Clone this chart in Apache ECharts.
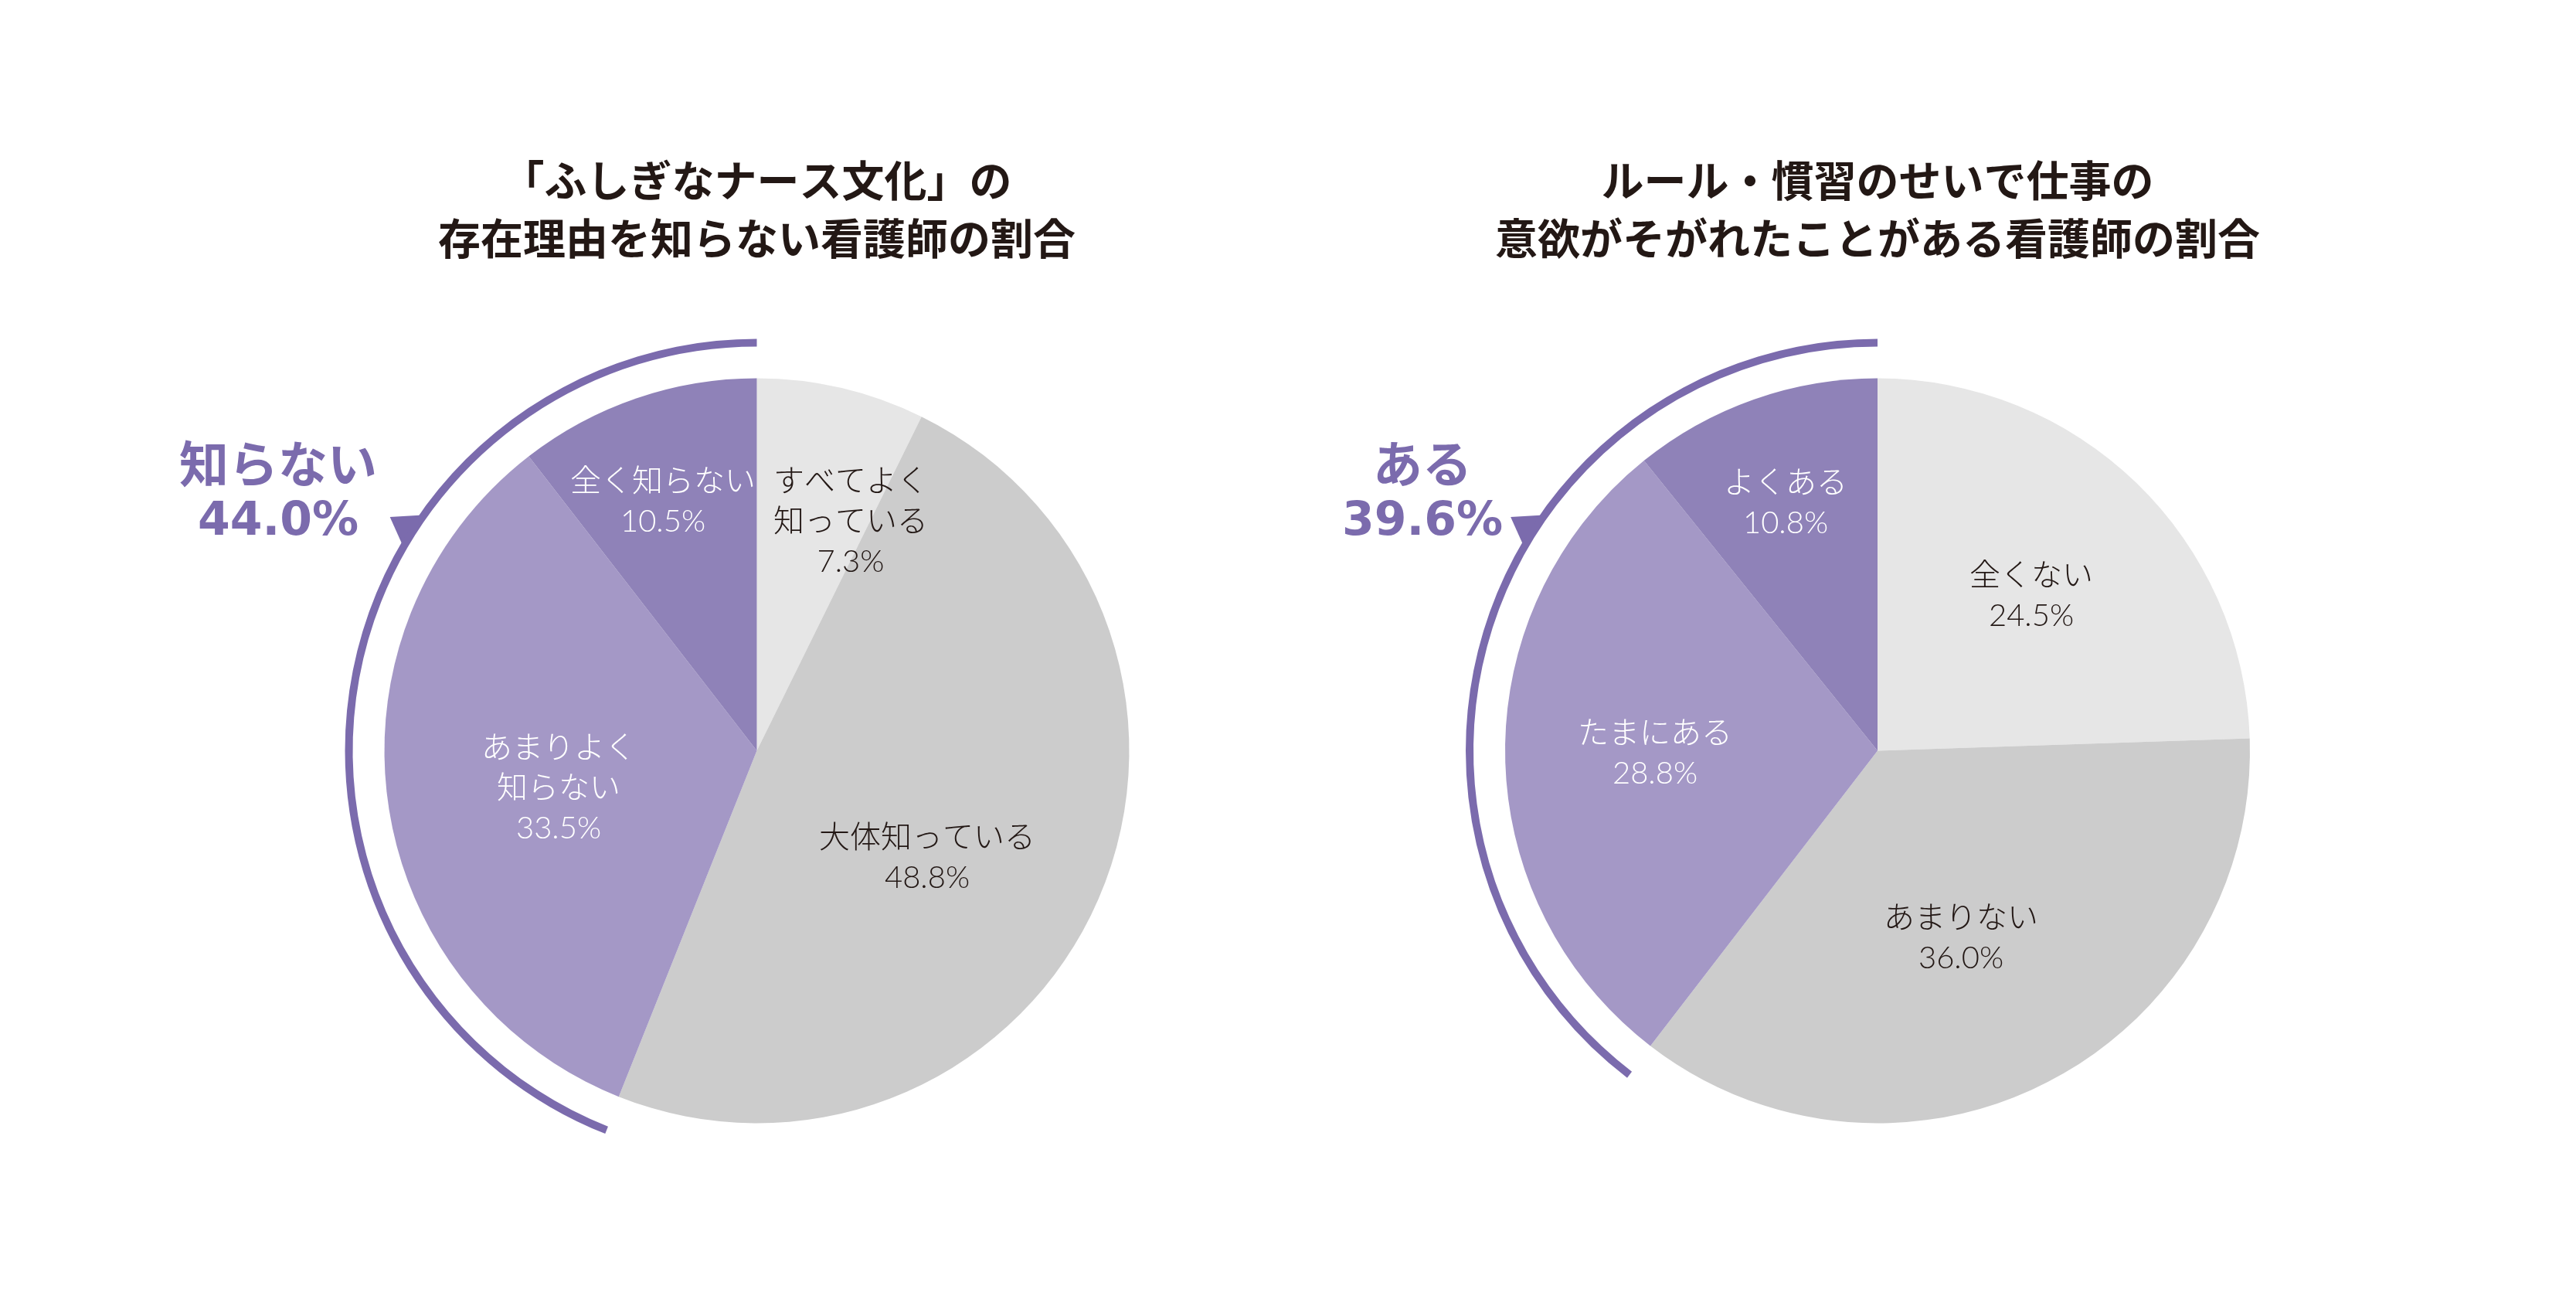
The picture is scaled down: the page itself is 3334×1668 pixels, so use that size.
<!DOCTYPE html>
<html>
<head>
<meta charset="utf-8">
<title>看護師アンケート</title>
<script src="https://cdn.jsdelivr.net/npm/echarts@6/dist/echarts.min.js"></script>
<style>
  html, body { margin: 0; padding: 0; background: #fff; }
  #main { width: 3334px; height: 1668px; }
</style>
</head>
<body>
<div id="main"></div>
<script>
// 左：「ふしぎなナース文化」の存在理由
var leftTitle = '「ふしぎなナース文化」の\n存在理由を知らない看護師の割合';
var leftNames = ['すべてよく\n知っている', '大体知っている', 'あまりよく\n知らない', '全く知らない'];
var leftValues = [7.3, 48.8, 33.5, 10.5];
var leftHighlight = '知らない';   // 紫の2つを合計

// 右：ルール・慣習で意欲がそがれた
var rightTitle = 'ルール・慣習のせいで仕事の\n意欲がそがれたことがある看護師の割合';
var rightNames = ['全くない', 'あまりない', 'たまにある', 'よくある'];
var rightValues = [24.5, 36.0, 28.8, 10.8];
var rightHighlight = 'ある';

var colors = ['#E6E6E6', '#CCCCCC', '#A498C6', '#8F82B8'];
var labelColors = ['#231815', '#231815', '#ffffff', '#ffffff'];
var arcColor = '#7B6BAD';

var R = 482;
var centers = [[979.5, 971.5], [2430, 971.5]];
// ラベル位置（円の中心からのずれ）
var labelPos = [
    [[121.5, -296.5], [220.5, 138.5], [-256.5, 48.5], [-121.5, -322.5]],
    [[199, -200.5], [108, 242.5], [-288, 3.5], [-119, -320.5]]
];

var labelFont = 'Lato, "Noto Sans CJK JP", sans-serif';

function pieData(names, values) {
    var out = [];
    for (var i = 0; i < names.length; i++) {
        out.push({
            name: names[i],
            value: values[i],
            itemStyle: { color: colors[i] },
            label: { color: labelColors[i] }
        });
    }
    return out;
}

function purpleSum(values) {
    return Math.round((values[2] + values[3]) * 10) / 10;
}

function pieSeries(idx, names, values) {
    return {
        type: 'pie',
        center: centers[idx],
        radius: [0, R],
        startAngle: 90,
        clockwise: true,
        avoidLabelOverlap: false,
        silent: true,
        itemStyle: { borderWidth: 0 },
        label: {
            show: true,
            position: 'inside',
            fontFamily: labelFont,
            fontWeight: 300,
            fontSize: 40,
            lineHeight: 52,
            align: 'center',
            formatter: function (p) {
                return p.name + '\n' + p.value.toFixed(1) + '%';
            }
        },
        labelLine: { show: false },
        labelLayout: function (params) {
            var off = labelPos[idx][params.dataIndex];
            return {
                x: centers[idx][0] + off[0],
                y: centers[idx][1] + off[1],
                align: 'center',
                verticalAlign: 'middle'
            };
        },
        data: pieData(names, values)
    };
}

function arcSeries(idx, values) {
    var s = purpleSum(values);
    return {
        type: 'pie',
        center: centers[idx],
        radius: [523, 533],
        startAngle: 90,
        clockwise: false,
        silent: true,
        label: { show: false },
        labelLine: { show: false },
        itemStyle: { borderWidth: 0 },
        data: [
            { value: s, itemStyle: { color: arcColor } },
            { value: 100 - s, itemStyle: { color: 'rgba(0,0,0,0)' } }
        ]
    };
}

// 矢印の三角（角度は上から反時計回り）
function arrowHead(idx) {
    var c = centers[idx];
    var pts = [[54.8, 529], [57.5, 563], [59.8, 531]].map(function (p) {
        var a = p[0] * Math.PI / 180;
        return [c[0] - p[1] * Math.sin(a), c[1] - p[1] * Math.cos(a)];
    });
    return {
        type: 'polygon',
        shape: { points: pts },
        style: { fill: arcColor }
    };
}

function titleText(idx, text) {
    return {
        type: 'text',
        x: centers[idx][0],
        y: 271,
        style: {
            text: text,
            fill: '#231815',
            font: 'bold 55px "Noto Sans CJK JP", sans-serif',
            lineHeight: 75,
            align: 'center',
            verticalAlign: 'middle'
        }
    };
}

function bigText(x, word, values) {
    return {
        type: 'text',
        x: x,
        y: 638,
        style: {
            text: '{a|' + word + '}\n{b|' + purpleSum(values).toFixed(1) + '%}',
            align: 'center',
            verticalAlign: 'middle',
            rich: {
                a: {
                    fill: arcColor,
                    fontFamily: '"Noto Sans CJK JP", sans-serif',
                    fontWeight: 'bold',
                    fontSize: 64,
                    lineHeight: 76
                },
                b: {
                    fill: arcColor,
                    fontFamily: '"DejaVu Sans", sans-serif',
                    fontWeight: 'bold',
                    fontSize: 60,
                    lineHeight: 76
                }
            }
        }
    };
}

var myChart = echarts.init(document.getElementById('main'));
myChart.setOption({
    backgroundColor: '#ffffff',
    animation: false,
    series: [
        pieSeries(0, leftNames, leftValues),
        arcSeries(0, leftValues),
        pieSeries(1, rightNames, rightValues),
        arcSeries(1, rightValues)
    ],
    graphic: [
        titleText(0, leftTitle),
        titleText(1, rightTitle),
        arrowHead(0),
        arrowHead(1),
        bigText(360, leftHighlight, leftValues),
        bigText(1841, rightHighlight, rightValues)
    ]
});
</script>
</body>
</html>
